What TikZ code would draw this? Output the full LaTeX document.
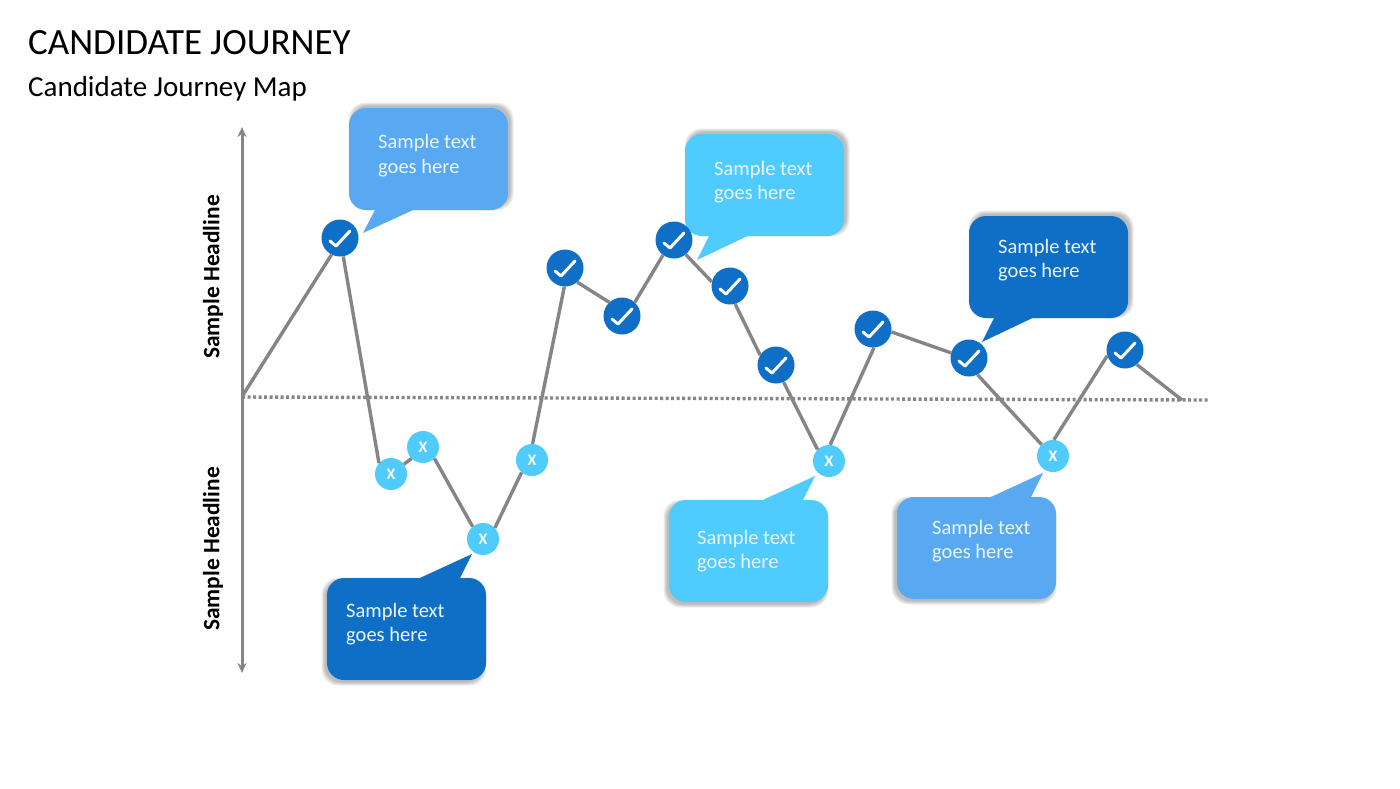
\documentclass[tikz,border=0pt]{standalone}
\usepackage{fontspec}
\setmainfont{Carlito}
\usetikzlibrary{arrows.meta}
\definecolor{cdark}{HTML}{0F6FC6}
\definecolor{clight}{HTML}{4FCBFE}
\definecolor{cmid}{HTML}{58A8F2}
\definecolor{cline}{HTML}{858585}
\definecolor{ctext}{HTML}{EAF6FF}
\tikzset{
  checknode/.style={circle,fill=cdark,minimum size=37pt,inner sep=0pt,
    path picture={\draw[white,line width=3pt,line cap=round,line join=round]
      ([shift={(-10,3)}]path picture bounding box.center)
      -- ([shift={(-4,8)}]path picture bounding box.center)
      -- ([shift={(10,-7)}]path picture bounding box.center);}},
  xnode/.style={circle,fill=clight,minimum size=32pt,inner sep=0pt,text=white,
    font=\fontsize{16}{16}\selectfont\bfseries},
  link/.style={draw=cline,line width=3.4pt},
  axisline/.style={draw=cline,line width=3pt,{Stealth[length=10pt,width=9pt]}-{Stealth[length=10pt,width=9pt]}},
  zeroline/.style={draw=cline,line width=3.4pt,dash pattern=on 3.2pt off 2.3pt},
  sidelabel/.style={rotate=90,font=\fontsize{23.4}{26}\selectfont\bfseries,text=black},
  bubblebox/.style={rounded corners=17pt,minimum width=160pt,minimum height=102pt,inner sep=0pt},
  bubbletext/.style={anchor=west,align=left,text=ctext,font=\fontsize{20.5}{24.6}\selectfont,inner sep=0pt},
}
% #1 name, #2 left, #3 top, #4 colour, #5 shadow dx, #6 shadow dy, #7 tip, #8 base a, #9 base b
\newcommand{\bubble}[9]{%
  \foreach \g in {3,2,1,0}{
    \fill[black,opacity=0.07,rounded corners=17pt]
      ({#2+#5-\g},{#3+#6-\g}) rectangle ({#2+159+#5+\g},{#3+102+#6+\g});
  }
  \node[bubblebox,fill=#4,minimum width=159pt] (#1) at ({#2+79.5},{#3+51}) {};
  \coordinate (#1tip) at #7;
  \fill[#4] #8 -- (#1tip) -- #9 -- cycle;
}
\begin{document}
\begin{tikzpicture}[x=1pt,y=-1pt]
\useasboundingbox[fill=white] (0,0) rectangle (1400,788);

\node[anchor=west,inner sep=0pt,font=\fontsize{37}{42}\selectfont] (title) at (28,42.5) {CANDIDATE JOURNEY};
\node[anchor=west,inner sep=0pt,font=\fontsize{29}{34}\selectfont] (subtitle) at (28,89) {Candidate Journey Map};

\coordinate (axtop) at (242,127);
\coordinate (axbot) at (242,673);
\coordinate (start) at (243,395);
\coordinate (finish) at (1182,400);
\coordinate (zerostart) at (242,397);
\coordinate (zeroend) at (1208,400);

\draw[axisline] (axtop) -- (axbot);
\draw[zeroline] (zerostart) -- (zeroend);

\node[sidelabel] (upper) at (213,277) {Sample Headline};
\node[sidelabel] (lower) at (213,549) {Sample Headline};

\bubble{b1}{349}{108}{cmid}{2.5}{-2.5}{(363,233)}{(377.6,205)}{(424,205)}
\bubble{b2}{685}{134}{clight}{2.5}{-2.5}{(697,260)}{(711.6,231)}{(758,231)}
\bubble{b3}{969}{216}{cdark}{2.5}{-2.5}{(982,342)}{(996.6,313)}{(1043,313)}
\bubble{b4}{327}{578}{cdark}{-2.5}{2.5}{(472,554)}{(409,583)}{(457.5,583)}
\bubble{b5}{669}{500}{clight}{-2.5}{2.5}{(815,476)}{(752,505)}{(800.5,505)}
\bubble{b6}{897}{497}{cmid}{-2.5}{2.5}{(1043,473)}{(980,502)}{(1028.5,502)}

\node[bubbletext] (t1) at (378,155.5) {Sample text\\goes here};
\node[bubbletext] (t2) at (714,182) {Sample text\\goes here};
\node[bubbletext] (t3) at (998,260) {Sample text\\goes here};
\node[bubbletext] (t4) at (346,624) {Sample text\\goes here};
\node[bubbletext] (t5) at (697,551) {Sample text\\goes here};
\node[bubbletext] (t6) at (932,541) {Sample text\\goes here};

\node[checknode] (n1) at (340,238) {};
\node[xnode] (n2) at (391,474) {X};
\node[xnode] (n3) at (423,447) {X};
\node[xnode] (n4) at (483,539) {X};
\node[xnode] (n5) at (532,460) {X};
\node[checknode] (n6) at (565,268) {};
\node[checknode] (n7) at (622,316) {};
\node[checknode] (n8) at (674,240) {};
\node[checknode] (n9) at (730,286) {};
\node[checknode] (n10) at (776,365) {};
\node[xnode] (n11) at (829,461) {X};
\node[checknode] (n12) at (873,329) {};
\node[checknode] (n13) at (969,358) {};
\node[xnode] (n14) at (1053,456) {X};
\node[checknode] (n15) at (1125,350) {};

\draw[link] (start) -- (n1.243);
\draw[link] (n1.280) -- (n2.138);
\draw[link] (n2.37) -- (n3.225);
\draw[link] (n3.315) -- (n4.130);
\draw[link] (n4.43) -- (n5.230);
\draw[link] (n5.88) -- (n6.268);
\draw[link] (n6.311) -- (n7.133);
\draw[link] (n7.47) -- (n8.234);
\draw[link] (n8.309) -- (n9.167);
\draw[link] (n9.286) -- (n10.148);
\draw[link] (n10.294) -- (n11.135);
\draw[link] (n11.86) -- (n12.273);
\draw[link] (n12.351) -- (n13.164);
\draw[link] (n13.297) -- (n14.135);
\draw[link] (n14.87) -- (n15.198);
\draw[link] (n15.309) -- (finish);
\end{tikzpicture}
\end{document}
